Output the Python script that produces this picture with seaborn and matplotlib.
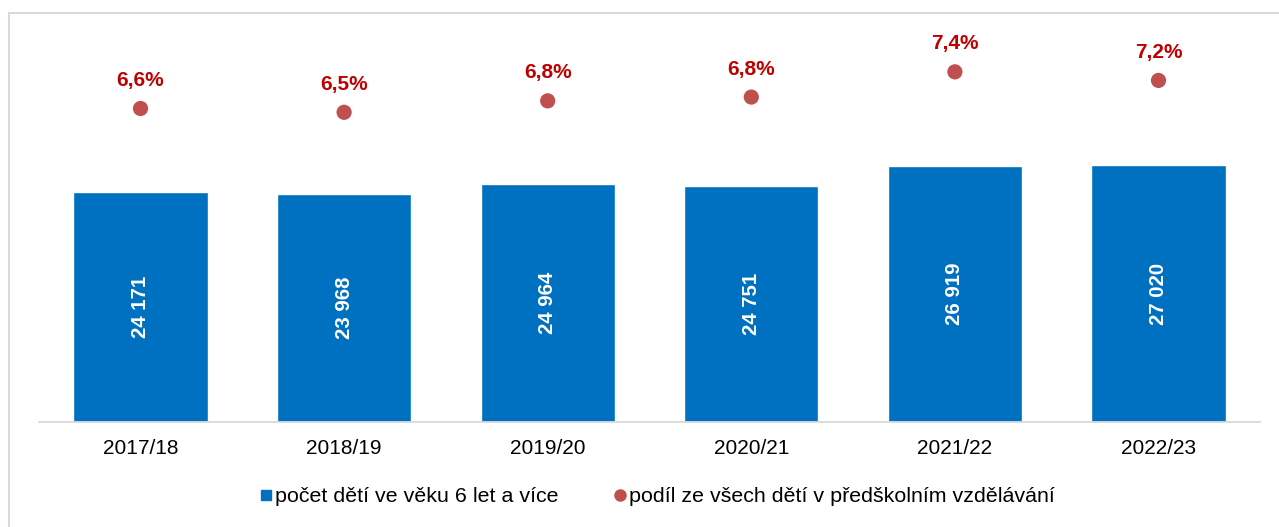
import matplotlib
matplotlib.use("Agg")
import matplotlib.pyplot as plt
import seaborn as sns
import pandas as pd
from matplotlib.lines import Line2D
from matplotlib.patches import Rectangle

# data
skolni_roky = ["2017/18", "2018/19", "2019/20", "2020/21", "2021/22", "2022/23"]
pocet_deti = [24171, 23968, 24964, 24751, 26919, 27020]
podil_procent = [6.59, 6.51, 6.75, 6.83, 7.36, 7.18]
popisky_legendy = ["počet dětí ve věku 6 let a více",
                   "podíl ze všech dětí v předškolním vzdělávání"]

MODRA = "#0070C0"
CERVENA_BOD = "#C0504D"
CERVENA_TEXT = "#C00000"
SEDA = "#D9D9D9"

sns.set_theme(style="white")
plt.rcParams["font.family"] = ["Liberation Sans", "DejaVu Sans"]

df = pd.DataFrame({"rok": skolni_roky, "pocet": pocet_deti, "podil": podil_procent})
df["pozice"] = range(len(df))

W, H = 1279, 527
fig = plt.figure(figsize=(W / 100, H / 100), dpi=100)
ax = fig.add_axes([38.7 / W, 105 / H, 1221.6 / W, 380.6 / H])

# sloupce - pocet deti
sns.barplot(data=df, x="rok", y="pocet", color=MODRA, saturation=1,
            width=0.66, ax=ax)
ax.set_ylim(0, 40000)
ax.bar_label(ax.containers[0],
             labels=[f"{v:,}".replace(",", " ") for v in pocet_deti],
             label_type="center", rotation=90, color="white",
             fontweight="bold", fontsize=14.7)

for s in ["top", "left", "right"]:
    ax.spines[s].set_visible(False)
ax.spines["bottom"].set_color(SEDA)
ax.spines["bottom"].set_linewidth(1.3)
ax.set_yticks([])
ax.set_xlabel("")
ax.set_ylabel("")
ax.tick_params(axis="x", length=0, pad=12, labelsize=15, labelcolor="black")

# body - podil v procentech (vedlejsi osa)
ax2 = ax.twinx()
sns.scatterplot(data=df, x="pozice", y="podil", color=CERVENA_BOD, s=120,
                edgecolor="none", ax=ax2, legend=False)
ax2.set_ylim(0, 8)
ax2.set_xlim(-0.5, len(df) - 0.5)
ax2.set_yticks([])
ax2.set_ylabel("")
for s in ax2.spines.values():
    s.set_visible(False)

for i, v in enumerate(podil_procent):
    ax2.annotate(f"{v:.1f}%".replace(".", ","), (i, v), xytext=(0, 28),
                 textcoords="offset pixels", ha="center", va="center",
                 color=CERVENA_TEXT, fontweight="bold", fontsize=15)

# legenda
handles = [
    Line2D([], [], marker="s", color=MODRA, linestyle="none", markersize=7),
    Line2D([], [], marker="o", color=CERVENA_BOD, linestyle="none", markersize=8),
]
fig.legend(handles, popisky_legendy, loc="center", ncol=2, frameon=False,
           bbox_to_anchor=(657 / W, 1 - 497 / H), fontsize=15.4,
           labelcolor="black", handlelength=0.6, handletextpad=0.1,
           columnspacing=2.6)

# ramecek grafu
fig.patches.append(Rectangle((9 / W, -0.1), 1.2, 1 - 12.5 / H + 0.1,
                             transform=fig.transFigure, fill=False,
                             edgecolor=SEDA, linewidth=1.5))

fig.savefig("out.png", dpi=100)
